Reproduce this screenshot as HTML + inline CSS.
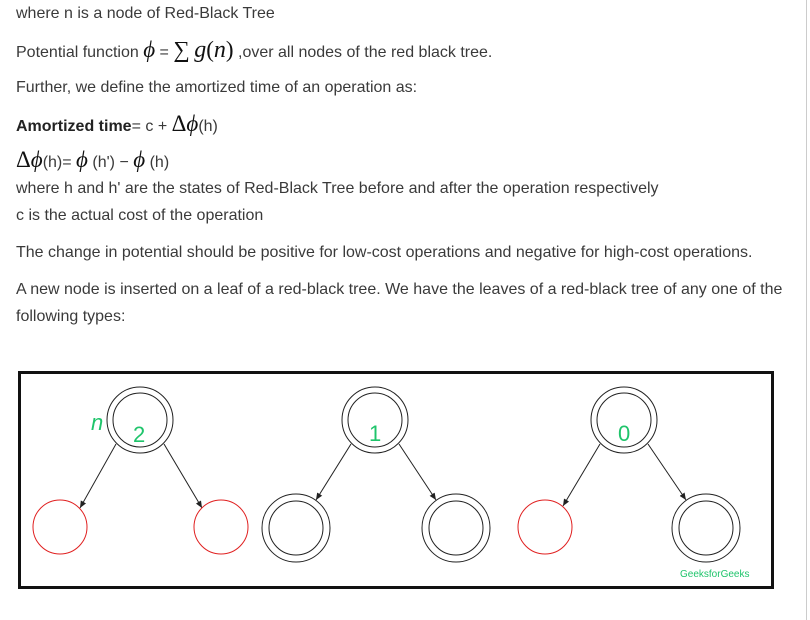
<!DOCTYPE html>
<html><head><meta charset="utf-8"><style>
body{margin:0;width:810px;height:620px;background:#fff;position:relative;overflow:hidden;font-family:"Liberation Sans",sans-serif;color:#3a3a3a;font-size:16px}
.l{position:absolute;left:16px;white-space:nowrap;line-height:20px}
.m{font-family:"Liberation Serif",serif;font-size:23px;color:#111}
.p{font-family:"Liberation Serif",serif;font-style:italic;font-size:23px;color:#111}
.mi{font-family:"Liberation Serif",serif;font-style:italic;font-size:24px;color:#111}
</style></head><body>
<div style="position:absolute;left:806px;top:0;width:1px;height:620px;background:#ccc"></div>
<div class="l" style="top:4px">where n is a node of Red-Black Tree</div>
<div class="l" style="top:40px">Potential function <span class="p">ϕ</span> = <span class="m">∑</span> <span class="mi">g</span><span class="m">(</span><span class="mi">n</span><span class="m">)</span> ,over all nodes of the red black tree.</div>
<div class="l" style="top:78px">Further, we define the amortized time of an operation as:</div>
<div class="l" style="top:114px"><b style="color:#222">Amortized time</b>= c + <span class="m">Δ</span><span class="p">ϕ</span>(h)</div>
<div class="l" style="top:150px"><span class="m">Δ</span><span class="p">ϕ</span>(h)= <span class="p">ϕ</span> (h') − <span class="p">ϕ</span> (h)</div>
<div class="l" style="top:179px">where h and h' are the states of Red-Black Tree before and after the operation respectively</div>
<div class="l" style="top:206px">c is the actual cost of the operation</div>
<div class="l" style="top:243px">The change in potential should be positive for low-cost operations and negative for high-cost operations.</div>
<div class="l" style="top:280px">A new node is inserted on a leaf of a red-black tree. We have the leaves of a red-black tree of any one of the</div>
<div class="l" style="top:307px">following types:</div>
<svg style="position:absolute;left:0;top:0" width="810" height="620">
<defs><marker id="a" markerWidth="8" markerHeight="8" refX="7" refY="4" orient="auto"><path d="M0,1 L7,4 L0,7z" fill="#222"/></marker></defs>
<rect x="19.5" y="372.5" width="753" height="215" fill="none" stroke="#111" stroke-width="3"/>
<g stroke="#222" fill="none" stroke-width="1">
<circle cx="140" cy="420" r="33"/><circle cx="140" cy="420" r="27"/>
<circle cx="375" cy="420" r="33"/><circle cx="375" cy="420" r="27"/>
<circle cx="624" cy="420" r="33"/><circle cx="624" cy="420" r="27"/>
<circle cx="296" cy="528" r="34"/><circle cx="296" cy="528" r="27"/>
<circle cx="456" cy="528" r="34"/><circle cx="456" cy="528" r="27"/>
<circle cx="706" cy="528" r="34"/><circle cx="706" cy="528" r="27"/>
<line x1="116" y1="444" x2="80" y2="508" marker-end="url(#a)"/>
<line x1="164" y1="444" x2="202" y2="508" marker-end="url(#a)"/>
<line x1="351" y1="444" x2="316" y2="500" marker-end="url(#a)"/>
<line x1="399" y1="444" x2="436" y2="500" marker-end="url(#a)"/>
<line x1="600" y1="444" x2="563" y2="506" marker-end="url(#a)"/>
<line x1="648" y1="444" x2="686" y2="500" marker-end="url(#a)"/>
</g>
<g stroke="#e02020" fill="none"><circle cx="60" cy="527" r="27"/><circle cx="221" cy="527" r="27"/><circle cx="545" cy="527" r="27"/></g>
<g fill="#1fc46b" font-family="Liberation Sans,sans-serif" font-size="22">
<text x="91" y="430" font-style="italic">n</text>
<text x="133" y="442">2</text><text x="369" y="441">1</text><text x="618" y="441">0</text>
<text x="680" y="577" font-size="10">GeeksforGeeks</text></g>
</svg>
</body></html>
